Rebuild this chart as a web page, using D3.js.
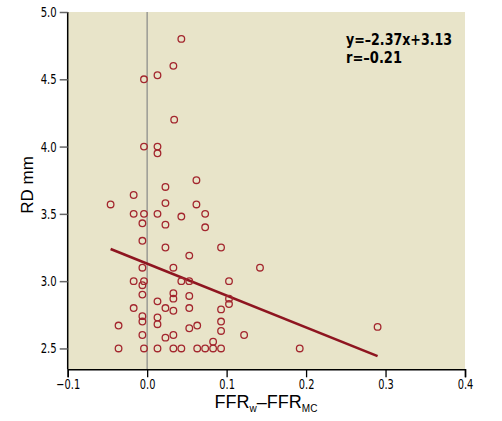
<!DOCTYPE html>
<html>
<head>
<meta charset="utf-8">
<title></title>
<script src="https://cdn.jsdelivr.net/npm/d3@7"></script>
<style>
  body { margin: 0; background: #fff; }
  .tick text { font-family: "DejaVu Sans Condensed", "Liberation Sans Narrow", sans-serif; font-size: 14px; fill: #000; }
  .eq { font-family: "DejaVu Sans Condensed", sans-serif; font-size: 16px; font-weight: bold; }
  .title { font-family: "Liberation Sans", Arial, sans-serif; font-size: 17px; }
</style>
</head>
<body>
<script>
// 数据: FFRw - FFRmc 与 RD
var xVals = [0.043, 0.033, 0.013, -0.004, 0.034, -0.004, 0.013, 0.013, 0.062, 0.023,
             -0.017, -0.046, 0.023, 0.062, -0.017, -0.004, 0.013, 0.043, 0.073, -0.006,
             0.023, 0.073, -0.006, 0.023, 0.093, 0.053, 0.142, -0.006, 0.033, -0.017,
             -0.004, -0.006, 0.043, 0.053, 0.103, -0.006, 0.033, 0.033, 0.053, 0.103,
             0.103, 0.013, -0.017, 0.023, 0.033, 0.053, 0.093, -0.006, -0.006, 0.013,
             0.013, -0.036, 0.053, 0.063, 0.093, 0.093, -0.006, 0.033, 0.122, 0.023,
             0.083, -0.036, -0.004, 0.013, 0.033, 0.043, 0.063, 0.073, 0.083, 0.093,
             0.290, 0.192];
var yVals = [4.80, 4.60, 4.53, 4.50, 4.20, 4.00, 4.00, 3.95, 3.75, 3.70,
             3.64, 3.57, 3.58, 3.57, 3.50, 3.50, 3.50, 3.48, 3.50, 3.43,
             3.42, 3.40, 3.30, 3.25, 3.25, 3.19, 3.10, 3.10, 3.10, 3.00,
             3.00, 2.97, 3.00, 3.00, 3.00, 2.90, 2.91, 2.87, 2.89, 2.87,
             2.83, 2.85, 2.80, 2.80, 2.78, 2.80, 2.79, 2.74, 2.70, 2.73,
             2.68, 2.67, 2.65, 2.67, 2.70, 2.63, 2.60, 2.60, 2.60, 2.58,
             2.55, 2.50, 2.50, 2.50, 2.50, 2.50, 2.50, 2.50, 2.50, 2.50,
             2.66, 2.50];
var xTicks = [-0.1, 0, 0.1, 0.2, 0.3, 0.4];
var yTicks = [2.5, 3.0, 3.5, 4.0, 4.5, 5.0];
// 回归线 y = -2.37x + 3.13
var slope = -2.37, intercept = 3.13;
var fitRange = [-0.046, 0.290];

var width = 502, height = 421;
var svg = d3.select("body").append("svg")
    .attr("width", width)
    .attr("height", height);

var xScale = d3.scaleLinear().domain([-0.1, 0.4]).range([67.7, 465]);
var yScale = d3.scaleLinear().domain([2.345, 5]).range([369.3, 12]);

// 文字压窄
function squeeze(sel, k) {
    sel.each(function(){
        var w = this.getComputedTextLength();
        d3.select(this).attr("textLength", w * k).attr("lengthAdjust", "spacingAndGlyphs");
    });
}

// 背景
svg.append("rect")
    .attr("x", xScale(-0.1))
    .attr("y", yScale(5))
    .attr("width", xScale(0.4) - xScale(-0.1))
    .attr("height", yScale(2.345) - yScale(5))
    .attr("fill", "#e8e4c9");

// x = 0 参考线
svg.append("line")
    .attr("x1", xScale(0)).attr("x2", xScale(0))
    .attr("y1", yScale(5)).attr("y2", yScale(2.345))
    .attr("stroke", "#9a9a94")
    .attr("stroke-width", 1.5);

// 回归线
var line = d3.line()
    .x(function(d){ return xScale(d); })
    .y(function(d){ return yScale(slope * d + intercept); });
svg.append("path")
    .attr("d", line(fitRange))
    .attr("fill", "none")
    .attr("stroke", "#8e1520")
    .attr("stroke-width", 2.6);

// 散点
svg.selectAll("circle.pt")
    .data(d3.range(xVals.length))
    .enter()
    .append("circle")
    .attr("class", "pt")
    .attr("cx", function(i){ return xScale(xVals[i]); })
    .attr("cy", function(i){ return yScale(yVals[i]); })
    .attr("r", 3.3)
    .attr("fill", "none")
    .attr("stroke", "#a3262e")
    .attr("stroke-width", 1.3);

// x 轴
var xAxis = d3.axisBottom(xScale)
    .tickValues(xTicks)
    .tickSize(8)
    .tickPadding(2)
    .tickFormat(function(d){ return d3.format(".1f")(d).replace("-", "\u2013"); });
var gx = svg.append("g")
    .attr("transform", "translate(0," + yScale(2.345) + ")")
    .call(xAxis);
gx.select(".domain").attr("stroke", "#000").attr("stroke-width", 1.5);
gx.selectAll(".tick line").attr("stroke", "#000").attr("stroke-width", 1.3);
squeeze(gx.selectAll(".tick text"), 0.78);

// y 轴
var yAxis = d3.axisLeft(yScale)
    .tickValues(yTicks)
    .tickSize(8)
    .tickPadding(3)
    .tickFormat(d3.format(".1f"));
var gy = svg.append("g")
    .attr("transform", "translate(" + xScale(-0.1) + ",0)")
    .call(yAxis);
gy.select(".domain").attr("stroke", "#000").attr("stroke-width", 1.5)
    .attr("d", "M0," + yScale(5) + "V" + yScale(2.345));
gy.selectAll(".tick line").attr("stroke", "#666").attr("stroke-width", 1.5);
squeeze(gy.selectAll(".tick text"), 0.8);

// 轴标题
svg.append("text")
    .attr("class", "title")
    .attr("transform", "translate(33,185) rotate(-90)")
    .attr("text-anchor", "middle")
    .text("RD mm");

var xt = svg.append("text")
    .attr("class", "title")
    .attr("x", 266)
    .attr("y", 408)
    .attr("text-anchor", "middle")
    .style("font-size", "18px");
xt.append("tspan").text("FFR");
xt.append("tspan").attr("dy", 4).style("font-size", "10px").text("w");
xt.append("tspan").attr("dy", -4).text("\u2013FFR");
xt.append("tspan").attr("dy", 4).style("font-size", "10px").text("MC");

// 回归方程
svg.append("text").attr("class", "eq").attr("x", 346).attr("y", 45)
    .attr("textLength", 106).attr("lengthAdjust", "spacingAndGlyphs")
    .text("y=\u20132.37x+3.13");
svg.append("text").attr("class", "eq").attr("x", 346).attr("y", 63)
    .attr("textLength", 56).attr("lengthAdjust", "spacingAndGlyphs")
    .text("r=\u20130.21");
</script>
</body>
</html>
